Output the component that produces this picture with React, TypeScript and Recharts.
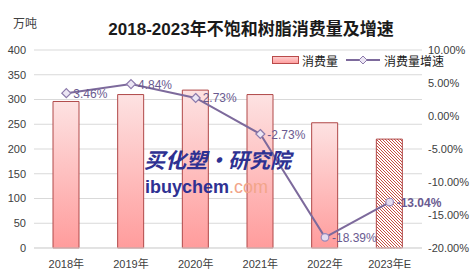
import React from 'react';
import { ComposedChart, Bar, Line, XAxis, YAxis, CartesianGrid, Cell, LabelList } from 'recharts';

const years = ['2018年', '2019年', '2020年', '2021年', '2022年', '2023年E'];
const consumption = [296, 310, 319, 310, 253, 220];
const growth = [3.46, 4.84, 2.73, -2.73, -18.39, -13.04];
const leftTicks = [0, 50, 100, 150, 200, 250, 300, 350, 400];
const rightTicks = [-20, -15, -10, -5, 0, 5, 10];

const data = years.map((y, i) => ({ year: y, consumption: consumption[i], growth: growth[i] }));

const FONT = '"Liberation Sans", "Noto Sans CJK SC", sans-serif';
const LINE_COLOR = '#7d6a9c';

const Dot = (props: any) => {
  const { cx, cy, index } = props;
  if (cx == null || cy == null) return null;
  if (index < 4) {
    const s = 4.5;
    return (
      <path
        key={'d' + index}
        d={`M${cx},${cy - s} L${cx + s},${cy} L${cx},${cy + s} L${cx - s},${cy} Z`}
        fill="#ece6f4"
        stroke="#8c7aab"
        strokeWidth={1.2}
      />
    );
  }
  return <circle key={'d' + index} cx={cx} cy={cy} r={3.8} fill="#e4dcf0" stroke="#9a88b8" strokeWidth={1.2} />;
};

const GrowthLabel = (props: any) => {
  const { x, y, value, index } = props;
  return (
    <text
      x={x + 7}
      y={y + 4.5}
      fill="#6a5a90"
      fontSize={12}
      fontFamily={FONT}
      fontWeight={index === 5 ? 'bold' : 'normal'}
    >
      {`${Number(value).toFixed(2)}%`}
    </text>
  );
};

export default function App() {
  return (
    <div style={{ position: 'absolute', left: 0, top: 0, width: 473, height: 279, background: '#fff', fontFamily: FONT }}>
      <ComposedChart
        width={473}
        height={279}
        data={data}
        margin={{ top: 50, right: 0, bottom: 0, left: 0 }}
      >
        <defs>
          <linearGradient id="barGrad" x1="0" y1="0" x2="0" y2="1">
            <stop offset="0%" stopColor="#fde2e2" />
            <stop offset="100%" stopColor="#ff9c9c" />
          </linearGradient>
          <pattern id="hatch" patternUnits="userSpaceOnUse" width="3" height="3">
            <rect width="3" height="3" fill="#ffffff" />
            <path d="M-1,-1 L4,4 M-1,2 L1,4 M2,-1 L4,1" stroke="#c0392b" strokeWidth={0.9} />
          </pattern>
        </defs>
        <CartesianGrid yAxisId="left" vertical={false} stroke="#d9d9d9" />
        <XAxis
          dataKey="year"
          height={31}
          tickLine={false}
          axisLine={{ stroke: '#d9d9d9' }}
          tick={{ fontSize: 11, fill: '#404040', fontFamily: FONT }}
          tickMargin={6}
        />
        <YAxis
          yAxisId="left"
          orientation="left"
          width={34}
          domain={[0, 400]}
          ticks={leftTicks}
          axisLine={false}
          tickLine={false}
          tick={{ fontSize: 11, fill: '#404040', fontFamily: FONT }}
        />
        <YAxis
          yAxisId="right"
          orientation="right"
          width={51}
          domain={[-20, 10]}
          ticks={rightTicks}
          axisLine={false}
          tickLine={false}
          tickMargin={0}
          tickFormatter={(v: number) => `${v.toFixed(2)}%`}
          tick={{ fontSize: 11, fill: '#404040', fontFamily: FONT }}
        />
        <Bar
          yAxisId="left"
          dataKey="consumption"
          barSize={26}
          fill="url(#barGrad)"
          stroke="#b94a4a"
          strokeWidth={1}
          isAnimationActive={false}
        >
          {data.map((d, i) => (
            <Cell key={i} fill={i === 5 ? 'url(#hatch)' : 'url(#barGrad)'} stroke="#b04848" />
          ))}
        </Bar>
        <Line
          yAxisId="right"
          dataKey="growth"
          stroke={LINE_COLOR}
          strokeWidth={2}
          dot={<Dot />}
          activeDot={false}
          isAnimationActive={false}
        >
          <LabelList dataKey="growth" content={<GrowthLabel />} />
        </Line>
      </ComposedChart>

      {/* Title */}
      <div
        style={{
          position: 'absolute',
          left: 0,
          width: 502,
          top: 18,
          textAlign: 'center',
          fontSize: 17,
          fontWeight: 'bold',
          color: '#1a1a1a',
          fontFamily: '"Liberation Sans", "Noto Sans CJK SC", sans-serif',
          lineHeight: '24px',
          whiteSpace: 'nowrap',
        }}
      >
        2018-2023年不饱和树脂消费量及增速
      </div>
      {/* Unit */}
      <div style={{ position: 'absolute', left: 13, top: 16, fontSize: 12, color: '#404040', fontFamily: FONT, lineHeight: '16px' }}>
        万吨
      </div>
      {/* Legend */}
      <div
        style={{
          position: 'absolute',
          left: 272,
          top: 52,
          height: 16,
          display: 'flex',
          alignItems: 'center',
          fontSize: 12,
          color: '#1a1a1a',
          fontFamily: FONT,
          whiteSpace: 'nowrap',
        }}
      >
        <svg width={27} height={8} style={{ display: 'block' }}>
          <defs>
            <linearGradient id="legGrad" x1="0" y1="0" x2="0" y2="1">
              <stop offset="0%" stopColor="#fdd0d0" />
              <stop offset="100%" stopColor="#ff9c9c" />
            </linearGradient>
          </defs>
          <rect x={0.5} y={0.5} width={26} height={7} fill="url(#legGrad)" stroke="#b94a4a" />
        </svg>
        <span style={{ marginLeft: 3 }}>消费量</span>
        <svg width={34} height={10} style={{ display: 'block', marginLeft: 8 }}>
          <line x1={0} y1={5} x2={34} y2={5} stroke={LINE_COLOR} strokeWidth={2} />
          <path d="M17,1 L21,5 L17,9 L13,5 Z" fill="#ece6f4" stroke="#8c7aab" strokeWidth={1} />
        </svg>
        <span style={{ marginLeft: 4 }}>消费量增速</span>
      </div>
      {/* Watermark */}
      <div
        style={{
          position: 'absolute',
          left: 144,
          top: 145,
          fontSize: 21,
          fontWeight: 'bold',
          fontStyle: 'italic',
          color: '#2e3192',
          fontFamily: '"Noto Sans CJK SC", sans-serif',
          lineHeight: '28px',
          whiteSpace: 'nowrap',
          pointerEvents: 'none',
        }}
      >
        买化塑·研究院
      </div>
      <div
        style={{
          position: 'absolute',
          left: 145,
          top: 176,
          fontSize: 18,
          fontWeight: 'bold',
          fontFamily: '"Liberation Sans", sans-serif',
          lineHeight: '22px',
          whiteSpace: 'nowrap',
          pointerEvents: 'none',
        }}
      >
        <span style={{ color: '#2e3192' }}>ibuychem</span>
        <span style={{ color: '#f2a58a', fontWeight: 'normal' }}>.com</span>
      </div>
    </div>
  );
}
